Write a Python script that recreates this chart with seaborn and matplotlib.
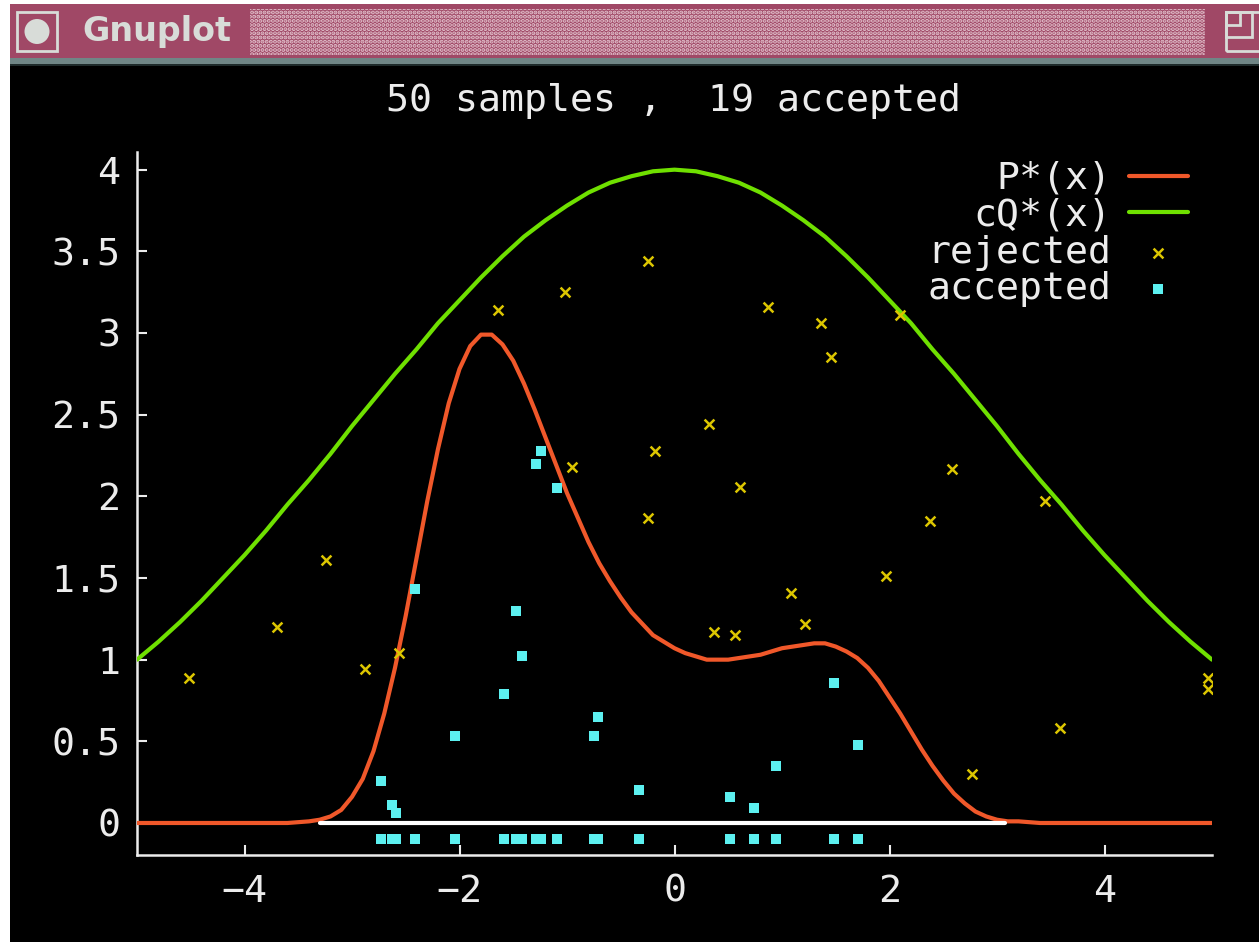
import matplotlib
matplotlib.use("Agg")
import matplotlib.pyplot as plt
import seaborn as sns
from matplotlib.patches import Rectangle, Ellipse
from matplotlib.ticker import MultipleLocator, FuncFormatter

# P*(x) (denser where the curve bends)
p_x = [-5.0, -4.0, -3.6, -3.4, -3.3, -3.2, -3.1, -3.0, -2.9, -2.8,
       -2.7, -2.6, -2.5, -2.4, -2.3, -2.2, -2.1, -2.0, -1.9, -1.8,
       -1.7, -1.6, -1.5, -1.4, -1.3, -1.2, -1.1, -1.0, -0.9, -0.8,
       -0.7, -0.6, -0.5, -0.4, -0.3, -0.2, -0.1, 0.0, 0.1, 0.2,
       0.3, 0.4, 0.5, 0.6, 0.7, 0.8, 0.9, 1.0, 1.1, 1.2,
       1.3, 1.4, 1.5, 1.6, 1.7, 1.8, 1.9, 2.0, 2.1, 2.2,
       2.3, 2.4, 2.5, 2.6, 2.7, 2.8, 2.9, 3.0, 3.1, 3.2,
       3.4, 4.0, 5.0]
p_star = [0, 0, 0, 0.01, 0.02, 0.04, 0.08, 0.16, 0.27, 0.44,
          0.67, 0.95, 1.27, 1.62, 1.97, 2.29, 2.57, 2.78, 2.92, 2.99,
          2.99, 2.93, 2.83, 2.69, 2.53, 2.36, 2.19, 2.02, 1.87, 1.72,
          1.59, 1.48, 1.38, 1.29, 1.22, 1.15, 1.11, 1.07, 1.04, 1.02,
          1.00, 1.00, 1.00, 1.01, 1.02, 1.03, 1.05, 1.07, 1.08, 1.09,
          1.10, 1.10, 1.08, 1.05, 1.01, 0.95, 0.87, 0.77, 0.67, 0.56,
          0.45, 0.35, 0.26, 0.18, 0.12, 0.07, 0.04, 0.02, 0.01, 0.01,
          0, 0, 0]

# cQ*(x) every 0.2 in x
q_x = [-5.0, -4.8, -4.6, -4.4, -4.2, -4.0, -3.8, -3.6, -3.4, -3.2,
       -3.0, -2.8, -2.6, -2.4, -2.2, -2.0, -1.8, -1.6, -1.4, -1.2,
       -1.0, -0.8, -0.6, -0.4, -0.2, 0.0, 0.2, 0.4, 0.6, 0.8,
       1.0, 1.2, 1.4, 1.6, 1.8, 2.0, 2.2, 2.4, 2.6, 2.8,
       3.0, 3.2, 3.4, 3.6, 3.8, 4.0, 4.2, 4.4, 4.6, 4.8, 5.0]
cq_star = [1.00, 1.11, 1.23, 1.36, 1.50, 1.64, 1.79, 1.95, 2.10, 2.26,
           2.43, 2.59, 2.75, 2.90, 3.06, 3.20, 3.34, 3.47, 3.59, 3.69,
           3.78, 3.86, 3.92, 3.96, 3.99, 4.00, 3.99, 3.96, 3.92, 3.86,
           3.78, 3.69, 3.59, 3.47, 3.34, 3.20, 3.06, 2.90, 2.75, 2.59,
           2.43, 2.26, 2.10, 1.95, 1.79, 1.64, 1.50, 1.36, 1.23, 1.11, 1.00]

rejected_x = [-4.52, -3.70, -3.24, -2.88, -2.56, -1.64, -1.02, -0.95, -0.25, -0.18,
              -0.25, 0.32, 0.37, 0.56, 0.61, 0.87, 1.08, 1.21, 1.36, 1.46,
              1.97, 2.10, 2.38, 2.58, 2.77, 3.45, 3.59, 4.96, 4.96]
rejected_y = [0.89, 1.20, 1.61, 0.94, 1.04, 3.14, 3.25, 2.18, 3.44, 2.28,
              1.87, 2.44, 1.17, 1.15, 2.06, 3.16, 1.41, 1.22, 3.06, 2.85,
              1.51, 3.11, 1.85, 2.17, 0.30, 1.97, 0.58, 0.89, 0.82]

accepted_x = [-2.73, -2.63, -2.59, -2.41, -2.04, -1.59, -1.47, -1.42, -1.29, -1.24,
              -1.09, -0.75, -0.71, -0.33, 0.52, 0.74, 0.94, 1.48, 1.71]
accepted_y = [0.26, 0.11, 0.06, 1.43, 0.53, 0.79, 1.30, 1.02, 2.20, 2.28,
              2.05, 0.53, 0.65, 0.20, 0.16, 0.09, 0.35, 0.86, 0.48]

support_x = [-3.30, 3.07]
support_y = [0.0, 0.0]
rug_level = -0.1

title_text = "50 samples ,  19 accepted"
y_ticks = [0, 0.5, 1, 1.5, 2, 2.5, 3, 3.5, 4]

RED = "#f0582a"
GREEN = "#6fe000"
YELLOW = "#dcc600"
CYAN = "#5cf0f0"
FG = "#ececec"
FS = 27.5

W, H = 1259, 942

sns.set_theme(style="ticks")
plt.rcParams["font.family"] = ["DejaVu Sans Mono", "DejaVu Sans"]
plt.rcParams["hatch.linewidth"] = 2.0

fig = plt.figure(figsize=(W / 100, H / 100), dpi=100, facecolor="black")


def box(x0, y0, x1, y1, **kw):
    # rectangle given in screen pixels (top-left origin)
    r = Rectangle((x0 / W, 1 - y1 / H), (x1 - x0) / W, (y1 - y0) / H,
                  transform=fig.transFigure, **kw)
    fig.patches.append(r)
    return r


# window decoration
box(0, 0, W, 4, facecolor="white", linewidth=0)
box(0, 0, 10, H, facecolor="white", linewidth=0)
box(10, 4, W, 58, facecolor="#a04866", linewidth=0)
box(10, 58, W, 64, facecolor="#708686", linewidth=0)
box(10, 64, W, 66, facecolor="#1e2a2a", linewidth=0)
box(250, 9, 1205, 55, facecolor="#a04866", edgecolor="#e4c4cf",
    hatch="....", linewidth=0)
box(17, 12, 57, 51, facecolor="none", edgecolor="#d8dcd8", linewidth=2)
fig.patches.append(Ellipse((37 / W, 1 - 31.5 / H), 25 / W, 25 / H,
                           transform=fig.transFigure, facecolor="#d8dcd8",
                           linewidth=0))
box(1226, 12, 1275, 51, facecolor="none", edgecolor="#d8dcd8", linewidth=2)
box(1226, 12, 1252, 37, facecolor="none", edgecolor="#d8dcd8", linewidth=2)
box(1226, 12, 1240, 25, facecolor="none", edgecolor="#d8dcd8", linewidth=2)
fig.text(82 / W, 1 - 32 / H, "Gnuplot", family="DejaVu Sans", weight="bold",
         fontsize=24, color="#d8dcd8", ha="left", va="center")

# plot area
ax = fig.add_axes([137 / W, 1 - 855 / H, (1212 - 137) / W, (855 - 151.7) / H])
ax.set_facecolor("black")

sns.lineplot(x=p_x, y=p_star, color=RED, linewidth=3.0, label="P*(x)",
             ax=ax, zorder=3)
sns.lineplot(x=q_x, y=cq_star, color=GREEN, linewidth=3.0, label="cQ*(x)",
             ax=ax, zorder=3)
sns.lineplot(x=support_x, y=support_y, color="white", linewidth=3.0,
             ax=ax, zorder=4)
sns.scatterplot(x=rejected_x, y=rejected_y, marker="x", s=50, color=YELLOW,
                linewidth=1.8, label="rejected", ax=ax, zorder=5)
sns.scatterplot(x=accepted_x, y=accepted_y, marker="s", s=44, color=CYAN,
                linewidth=0, label="accepted", ax=ax, zorder=5)
sns.scatterplot(x=accepted_x, y=[rug_level] * len(accepted_x), marker="s",
                s=44, color=CYAN, linewidth=0, ax=ax, zorder=5, legend=False)

ax.set_xlim(-5, 5)
ax.set_ylim(-0.196, 4.11)
ax.set_yticks(y_ticks)
ax.xaxis.set_major_locator(MultipleLocator(2))
ax.yaxis.set_major_formatter(FuncFormatter(lambda v, p: f"{v:g}"))
ax.xaxis.set_major_formatter(FuncFormatter(lambda v, p: f"{v:g}".replace("-", "\u2212")))

for side in ["top", "right"]:
    ax.spines[side].set_visible(False)
for side in ["left", "bottom"]:
    ax.spines[side].set_color(FG)
    ax.spines[side].set_linewidth(1.8)

ax.tick_params(direction="in", length=7, width=1.5, colors=FG, labelsize=FS)
ax.tick_params(axis="x", pad=13.5)
ax.tick_params(axis="y", pad=12)
ax.set_xlabel("")
ax.set_ylabel("")

leg = ax.legend(loc="upper right", bbox_to_anchor=(1188 / W, 1 - 161 / H),
                bbox_transform=fig.transFigure, frameon=False, markerfirst=False,
                fontsize=FS, labelcolor=FG, handlelength=1.55,
                handletextpad=0.45, labelspacing=0.02, borderpad=0,
                borderaxespad=0)

fig.text(673 / W, 1 - 101 / H, title_text, fontsize=FS, color=FG,
         ha="center", va="center")

fig.savefig("out.png", dpi=100, facecolor="black")
